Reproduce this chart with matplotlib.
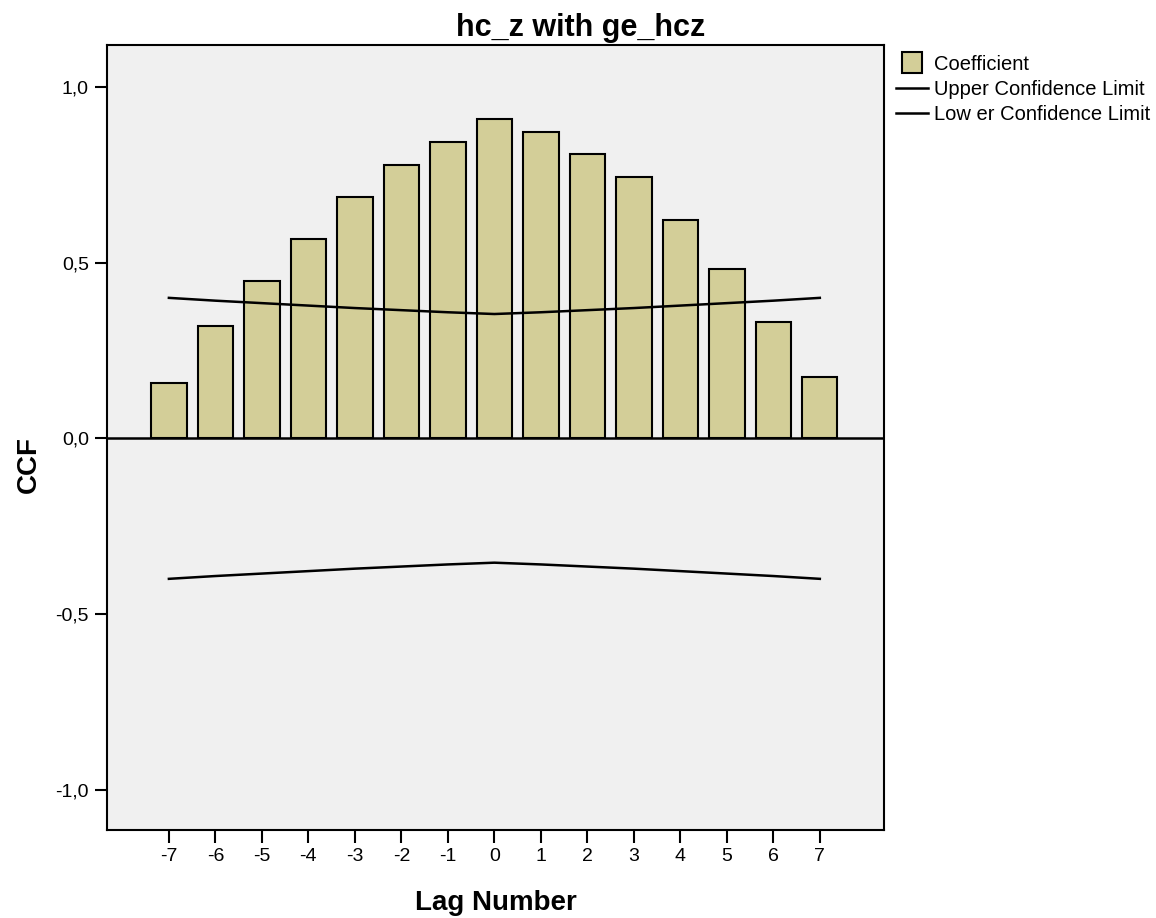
import numpy as np
import matplotlib.pyplot as plt
from matplotlib.legend_handler import HandlerPatch
from matplotlib.patches import Rectangle
from matplotlib.container import BarContainer

plt.rcParams["font.family"] = ["Liberation Sans", "DejaVu Sans"]

# Datos
lags = [-7, -6, -5, -4, -3, -2, -1, 0, 1, 2, 3, 4, 5, 6, 7]
coef = [0.159, 0.319, 0.447, 0.569, 0.688, 0.777, 0.845, 0.910,
        0.871, 0.811, 0.745, 0.623, 0.481, 0.330, 0.174]
upper = [0.400, 0.392, 0.385, 0.378, 0.371, 0.365, 0.359, 0.354,
         0.359, 0.365, 0.371, 0.378, 0.385, 0.392, 0.400]
lower = [-u for u in upper]
yticks = [-1.0, -0.5, 0.0, 0.5, 1.0]
ytick_labels = ["-1,0", "-0,5", "0,0", "0,5", "1,0"]


def square_patch(legend, orig_handle, xdescent, ydescent, width, height, fontsize):
    # parche cuadrado centrado en el hueco del handle
    s = height * 1.45
    return Rectangle((xdescent + (width - s) / 2, ydescent + (height - s) / 2), s, s)


def copy_first_bar(tgt, src):
    tgt.update_from(src.patches[0])


fig = plt.figure(figsize=(11.56, 9.18), dpi=100)
ax = fig.add_axes([0.0926, 0.0959, 0.6721, 0.8551])
ax.set_facecolor("#f0f0f0")

bars = ax.bar(lags, coef, width=0.76, color="#d3ce98", edgecolor="black",
              linewidth=1.5, zorder=2)
l_up, = ax.plot(lags, upper, color="black", linewidth=1.8, zorder=3)
l_lo, = ax.plot(lags, lower, color="black", linewidth=1.8, zorder=3)
ax.axhline(0, color="black", linewidth=1.8, zorder=4)

ax.set_xlim(-8.33, 8.38)
ax.set_ylim(-1.115, 1.12)
ax.set_xticks(lags)
ax.set_xticklabels([str(l) for l in lags], fontsize=14)
ax.set_yticks(yticks)
ax.set_yticklabels(ytick_labels, fontsize=14)
ax.tick_params(direction="out", length=9, width=1.5, pad=4)

for s in ax.spines.values():
    s.set_linewidth(1.5)

# titulo centrado en la figura
fig.text(0.502, 0.969, "hc_z with ge_hcz", fontsize=22, fontweight="bold",
         ha="center", va="center")
ax.set_xlabel("Lag Number", fontsize=20, fontweight="bold")
ax.xaxis.set_label_coords(0.5, -0.093)
ax.xaxis.label.set_va("center")
ax.set_ylabel("CCF", fontsize=20, fontweight="bold")
ax.yaxis.set_label_coords(-0.100, 0.465)
ax.yaxis.label.set_va("center")

ax.legend([bars, l_up, l_lo],
          ["Coefficient", "Upper Confidence Limit", "Low er Confidence Limit"],
          loc="upper left", bbox_to_anchor=(1.0, 1.003), frameon=False,
          fontsize=14.5, handlelength=1.6, handletextpad=0.3,
          labelspacing=0.3, borderaxespad=0.2,
          handler_map={BarContainer: HandlerPatch(patch_func=square_patch,
                                                  update_func=copy_first_bar)})

fig.savefig("out.png", dpi=100)
